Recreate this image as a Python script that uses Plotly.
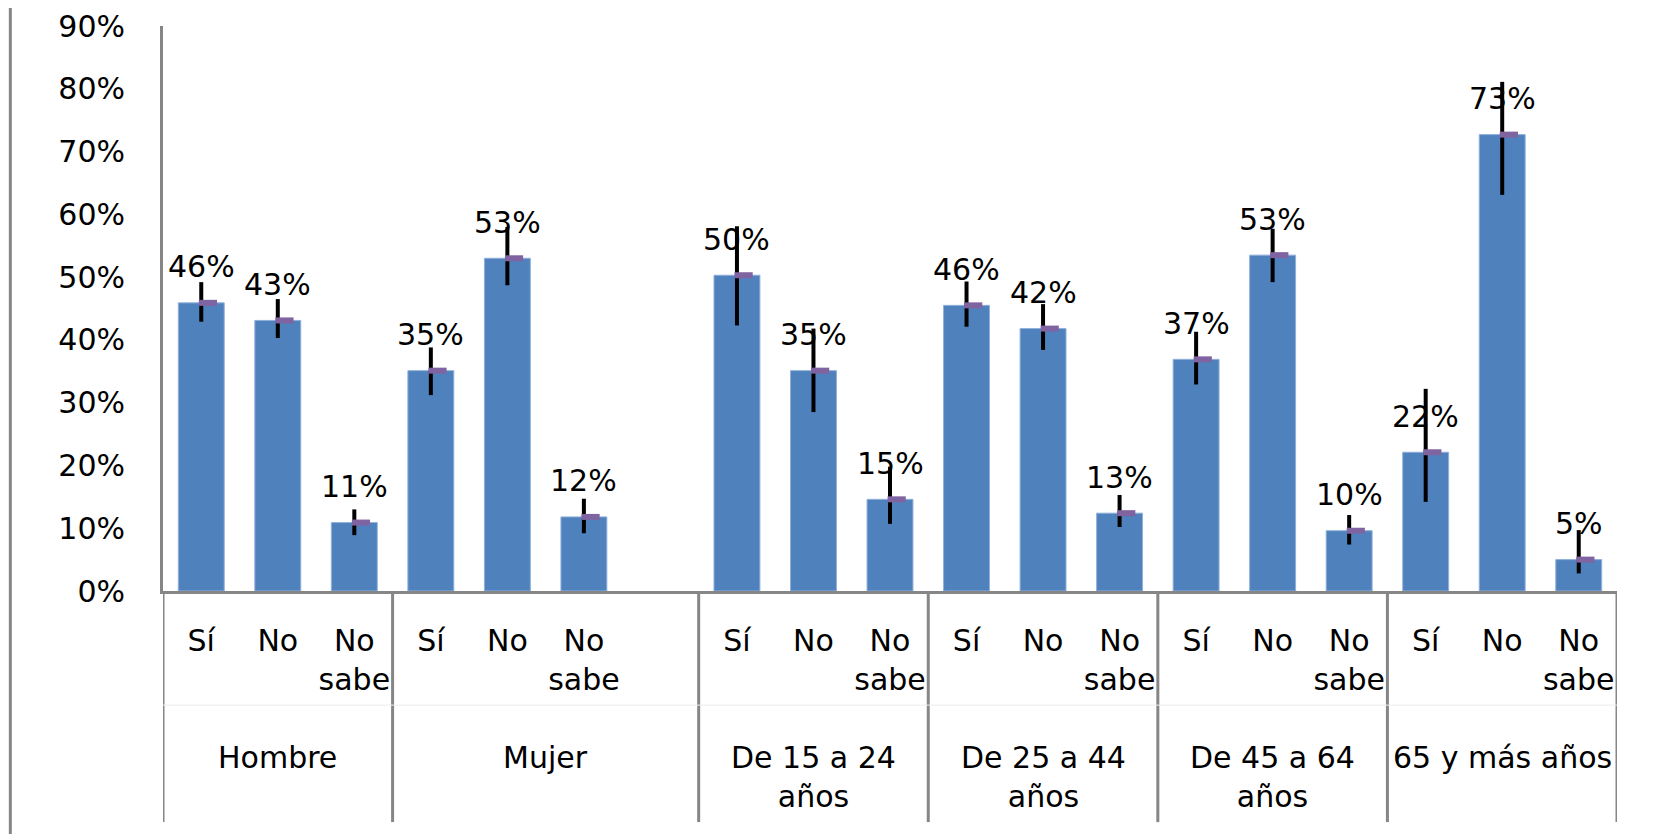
import plotly.graph_objects as go

### data
groups = ["Hombre", "Mujer", "De 15 a 24<br>años", "De 25 a 44<br>años", "De 45 a 64<br>años", "65 y más años"]
answers = ["Sí", "No", "No<br>sabe"]
values = [45.9, 43.1, 10.9,
          35.1, 53.0, 11.8,
          50.3, 35.1, 14.6,
          45.5, 41.8, 12.4,
          36.9, 53.5, 9.6,
          22.1, 72.7, 5.0]
labels = ["46%", "43%", "11%",
          "35%", "53%", "12%",
          "50%", "35%", "15%",
          "46%", "42%", "13%",
          "37%", "53%", "10%",
          "22%", "73%", "5%"]
ci_high = [49.2, 46.5, 13.0,
           38.8, 58.0, 14.7,
           58.1, 41.8, 19.8,
           49.3, 45.7, 15.3,
           41.3, 57.7, 12.1,
           32.2, 81.1, 9.7]
ci_low = [42.9, 40.3, 8.9,
          31.2, 48.7, 9.2,
          42.3, 28.5, 10.7,
          42.1, 38.4, 10.2,
          32.9, 49.2, 7.4,
          14.2, 63.1, 2.8]
y_ticks = [0, 10, 20, 30, 40, 50, 60, 70, 80, 90]
y_tick_text = ["0%", "10%", "20%", "30%", "40%", "50%", "60%", "70%", "80%", "90%"]
# the Mujer block carries one empty slot at its end
blank_after = ["Mujer"]

### layout helpers
FONT = "DejaVu Sans"
FSIZE = 30
GRAY = "#868686"

#slot positions for every bar, and group boundaries
x_pos = []
tick_text = []
bounds = [-0.5]
centers = []
pos = 0
for g in groups:
    start = pos
    for a in answers:
        x_pos.append(pos)
        tick_text.append(a)
        pos += 1
    if g in blank_after:
        pos += 1
    bounds.append(pos - 0.5)
    centers.append((start + pos - 1) / 2)

err_up = [h - v for h, v in zip(ci_high, values)]
err_down = [v - l for l, v in zip(ci_low, values)]

fig = go.Figure()
fig.add_trace(go.Bar(
    x=x_pos, y=values, width=0.6,
    marker=dict(color="#4F81BD", line=dict(color="#8FB0DA", width=1)),
    error_y=dict(type="data", symmetric=False, array=err_up, arrayminus=err_down,
                 color="black", thickness=4, width=0),
    hoverinfo="skip", showlegend=False))
#small purple dash at each bar top
fig.add_trace(go.Scatter(
    x=[p + 0.087 for p in x_pos], y=values, mode="markers",
    marker=dict(symbol="line-ew", size=13, line=dict(color="#8064A2", width=6)),
    hoverinfo="skip", showlegend=False))

#value labels
for p, v, t in zip(x_pos, values, labels):
    fig.add_annotation(x=p, y=v, text=t, showarrow=False, yshift=36,
                       font=dict(family=FONT, size=FSIZE, color="black"))

#group labels under the answers
for c, g in zip(centers, groups):
    fig.add_annotation(x=c, y=-0.26, yref="paper", yanchor="top", text=g,
                       showarrow=False, font=dict(family=FONT, size=FSIZE, color="black"))

#divider lines between groups
for b in bounds:
    fig.add_shape(type="line", x0=b, x1=b, y0=0, y1=-0.409, yref="paper",
                  line=dict(color=GRAY, width=3))
fig.add_shape(type="line", x0=bounds[0], x1=bounds[-1], y0=-0.202, y1=-0.202, yref="paper",
              line=dict(color="#ececec", width=1))
#left border of the chart area
fig.add_shape(type="line", x0=-0.105, x1=-0.105, y0=-0.43, y1=1.05, xref="paper", yref="paper",
              line=dict(color=GRAY, width=3))

#page body adds 8px, margins are set to cancel it
fig.update_layout(
    width=1653, height=839,
    margin=dict(l=155, r=44, t=18, b=256),
    plot_bgcolor="white", paper_bgcolor="white",
    font=dict(family=FONT, size=FSIZE, color="black"),
    xaxis=dict(range=[bounds[0], bounds[-1]], tickvals=x_pos, ticktext=tick_text,
               showgrid=False, zeroline=False, showline=True, linecolor=GRAY, linewidth=3,
               ticks="", ticklabelstandoff=21, automargin=False,
               tickfont=dict(family=FONT, size=FSIZE)),
    yaxis=dict(range=[0, 90], tickvals=y_ticks, ticktext=y_tick_text,
               showgrid=False, zeroline=False, showline=True, linecolor=GRAY, linewidth=3,
               ticks="", ticklabelstandoff=29, automargin=False,
               tickfont=dict(family=FONT, size=FSIZE)),
)

fig.write_html("out.html")
